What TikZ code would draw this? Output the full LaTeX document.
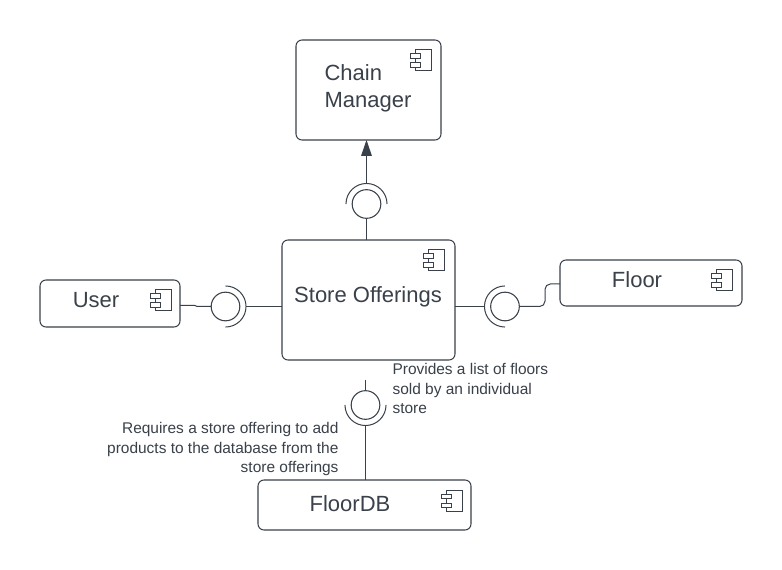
\documentclass[tikz,border=0pt]{standalone}
\usepackage{fontspec}
\setmainfont{Liberation Sans}
\usetikzlibrary{arrows.meta}
\definecolor{ink}{HTML}{3A414A}
\tikzset{
  x=0.75pt,y=-0.75pt,
  every path/.style={line width=0.8pt},
  comp/.style={draw=ink,fill=white,rectangle,rounded corners=4.5pt,inner sep=0pt,outer sep=0pt},
  iface/.style={draw=ink,fill=white,circle,inner sep=0pt,outer sep=0pt,minimum size=21.5pt},
  conn/.style={draw=ink,line width=0.75pt},
  title/.style={text=ink,font=\fontsize{16.5pt}{20.25pt}\selectfont,inner sep=0pt},
  note/.style={text=ink,font=\fontsize{11.6pt}{14.6pt}\selectfont,inner sep=0pt},
  compicon/.pic={
    \draw[ink,line width=0.75pt,fill=white] (5,0) rectangle (21,21);
    \draw[ink,line width=0.75pt,fill=white] (0,4) rectangle (10,8.5);
    \draw[ink,line width=0.75pt,fill=white] (0,13) rectangle (10,17.5);
  }
}
\begin{document}
\begin{tikzpicture}
\useasboundingbox[fill=white] (0,0) rectangle (782,570);
% component boxes
\node[comp,minimum width=108.75pt,minimum height=75pt] (chain) at (368.5,90) {};
\node[comp,minimum width=129.75pt,minimum height=90pt] (store) at (368.5,300) {};
\node[comp,minimum width=105pt,minimum height=35.25pt] (user) at (110,303.5) {};
\node[comp,minimum width=136.5pt,minimum height=34.5pt] (floor) at (651,283) {};
\node[comp,minimum width=159.75pt,minimum height=37.5pt] (floordb) at (364.5,505) {};
% interfaces
\node[iface] (ctop) at (366.5,204) {};
\node[iface] (cuser) at (225.5,306.5) {};
\node[iface] (cfloor) at (505,306.5) {};
\node[iface] (cdb) at (365.5,405) {};
% sockets
\draw[conn] ([shift={(180:15.4pt)}]ctop.center) arc[start angle=180,end angle=0,radius=15.4pt];
\draw[conn] ([shift={(90:15.4pt)}]cuser.center) arc[start angle=90,end angle=-90,radius=15.4pt];
\draw[conn] ([shift={(90:15.4pt)}]cfloor.center) arc[start angle=90,end angle=270,radius=15.4pt];
\draw[conn] ([shift={(180:15.4pt)}]cdb.center) arc[start angle=180,end angle=360,radius=15.4pt];
\coordinate (atop) at ([yshift=15.4pt]ctop.center);
\coordinate (auser) at ([xshift=15.4pt]cuser.center);
\coordinate (afloor) at ([xshift=-15.4pt]cfloor.center);
\coordinate (adb) at ([yshift=-15.4pt]cdb.center);
\coordinate (dbfree) at (365.5,380);
\coordinate (userout) at (180,305.5);
\coordinate (floorin) at (560,284);
% connectors
\draw[conn,-{Triangle[length=12pt,width=8pt]},fill=ink] (atop) -- (atop |- chain.south);
\draw[conn] (ctop.south) -- (ctop.south |- store.north);
\draw[conn] (userout) -- (195,305.5) -- (197,306.5) -- (cuser.west);
\draw[conn] (auser) -- (auser -| store.west);
\draw[conn] (afloor) -- (afloor -| store.east);
\draw[conn,rounded corners=4pt] (cfloor.east) -- (545,306.5) -- (545,284) -- (floorin);
\draw[conn] (dbfree) -- (cdb.north);
\draw[conn] (adb) -- (adb |- floordb.north);
% icons
\pic at (410,50) {compicon};
\pic at (423,250) {compicon};
\pic at (150,290) {compicon};
\pic at (711,270) {compicon};
\pic at (441,490) {compicon};
% labels
\node[title,align=left,anchor=west] (tchain) at (324,88) {Chain\\Manager};
\node[title] (tstore) at (368,297) {Store Offerings};
\node[title] (tuser) at (96,300.5) {User};
\node[title] (tfloor) at (637,279.5) {Floor};
\node[title] (tdb) at (350,503.5) {FloorDB};
\node[note,align=left,anchor=west] (tprov) at (392,388.5) {Provides a list of floors\\sold by an individual\\store};
\node[note,align=right,anchor=east] (treq) at (339,449) {Requires a store offering to add\\products to the database from the\\store offerings};
\end{tikzpicture}
\end{document}
